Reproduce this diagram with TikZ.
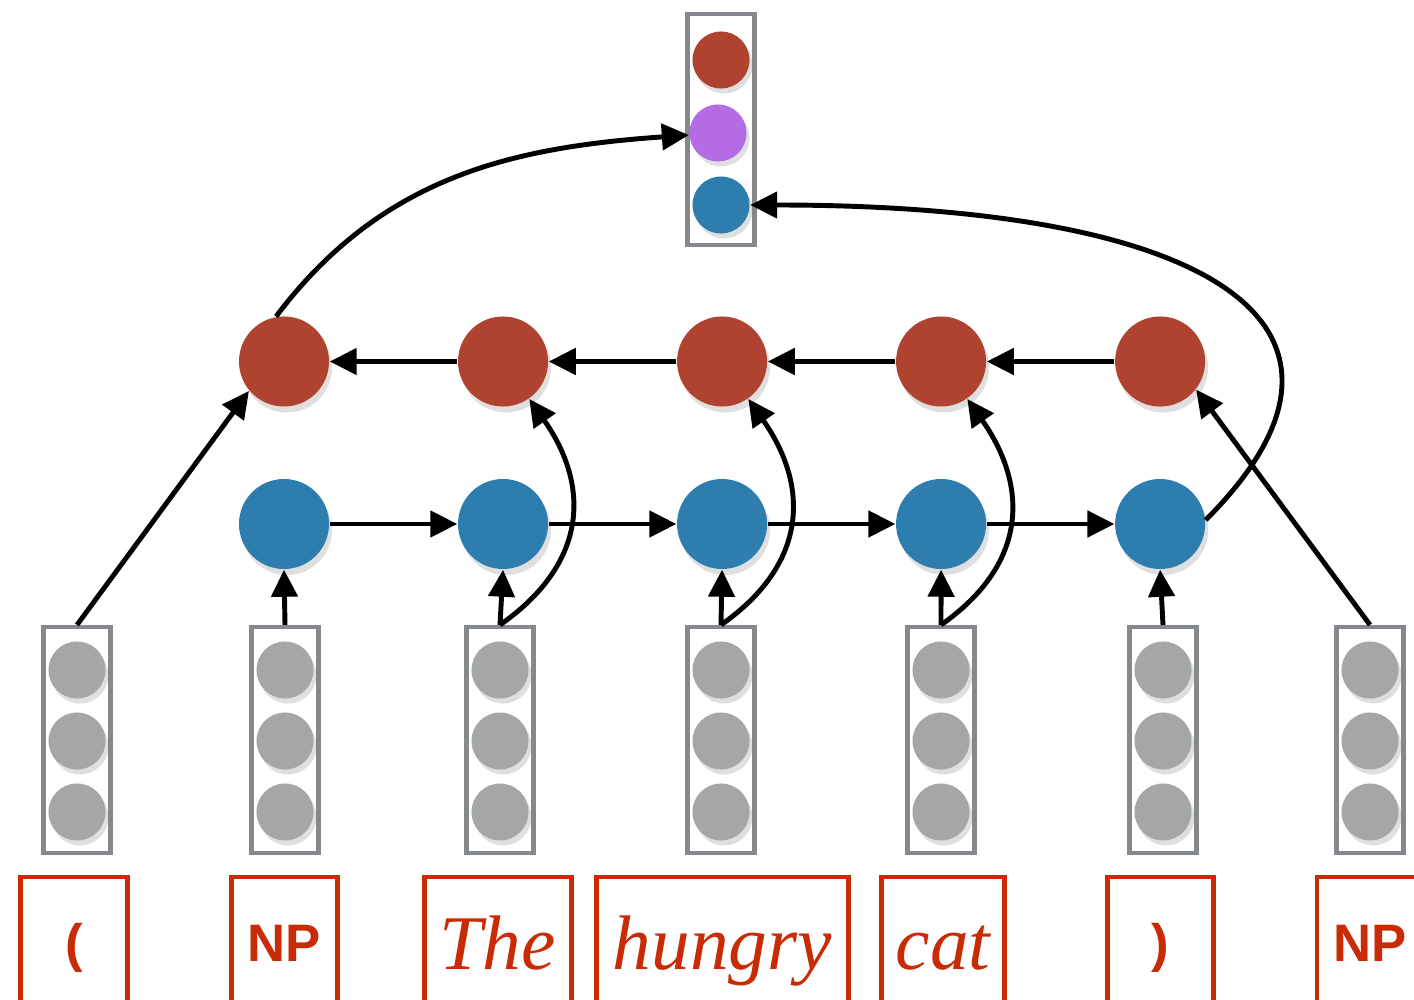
\documentclass[tikz,border=0pt]{standalone}
\usepackage{fontspec}
\newfontfamily\wordfont{Liberation Serif}
\newfontfamily\tagfont{Liberation Sans}
\usepackage{tikz}
\usetikzlibrary{arrows.meta, positioning, shadows}
\usepackage{xcolor}
\definecolor{hidred}{RGB}{176,67,47}
\definecolor{hidblue}{RGB}{46,125,175}
\definecolor{hidpurple}{RGB}{180,107,227}
\definecolor{unitgrey}{RGB}{165,167,166}
\definecolor{boxgrey}{RGB}{133,136,140}
\definecolor{wordred}{RGB}{201,43,5}

\begin{document}
\begin{tikzpicture}[
      x=0.01cm, y=0.01cm, >={Triangle[length=2.7mm, width=2.6mm]},
      vec/.style={rectangle, draw=boxgrey, line width=1.3pt, minimum width=0.665cm, minimum height=2.255cm, inner sep=0pt},
      unit/.style={circle, inner sep=0pt, minimum size=0.57cm, fill=unitgrey, drop shadow={shadow xshift=0.3mm, shadow yshift=-0.5mm, opacity=0.25}},
      hid/.style={circle, inner sep=0pt, minimum size=0.9cm, drop shadow={shadow xshift=0.3mm, shadow yshift=-0.6mm, opacity=0.25}},
      word/.style={rectangle, draw=wordred, line width=1.4pt, anchor=north, minimum height=1.47cm, inner sep=0pt, text=wordred, font=\wordfont\itshape\fontsize{22}{26}\selectfont, text height=0.54cm, text depth=0.16cm},
      tag/.style={word, font=\tagfont\bfseries\fontsize{15}{18}\selectfont, text height=0.40cm, text depth=0.18cm},
      line/.style={draw, line width=1.4pt, ->}
    ]
    \useasboundingbox (0,0) rectangle (1414,999);
    \clip (0,0) rectangle (1414,999);

    % Words
    \node[tag, minimum width=1.07cm] (w1) at (74,124.5) {(};
    \node[tag, minimum width=1.06cm] (w2) at (284.5,124.5) {NP};
    \node[word, minimum width=1.47cm] (w3) at (498,124.5) {The};
    \node[word, minimum width=2.52cm] (w4) at (722.5,124.5) {hungry};
    \node[word, minimum width=1.23cm] (w5) at (943,124.5) {cat};
    \node[tag, minimum width=1.06cm] (w6) at (1160.5,124.5) {)};
    \node[tag, minimum width=1.06cm] (w7) at (1370,124.5) {NP};

    % Embeddings
    \foreach \x [count=\i] in {77,285,500,721,941,1163,1370} {
      \node[vec] (emb\i) at (\x,259) {};
      \foreach \y [count=\j] in {329,258,187}
        \node[unit] (emb\i-\j) at (\x,\y) {};
    }

    % Hidden states
    \node[hid, fill=hidblue] (fw1) at (284,475) {};
    \node[hid, fill=hidblue, right=1.275cm of fw1] (fw2) {};
    \node[hid, fill=hidblue, right=1.275cm of fw2] (fw3) {};
    \node[hid, fill=hidblue, right=1.275cm of fw3] (fw4) {};
    \node[hid, fill=hidblue, right=1.275cm of fw4] (fw5) {};
    \node[hid, fill=hidred, above=0.71cm of fw1] (bw1) {};
    \node[hid, fill=hidred, above=0.71cm of fw2] (bw2) {};
    \node[hid, fill=hidred, above=0.71cm of fw3] (bw3) {};
    \node[hid, fill=hidred, above=0.71cm of fw4] (bw4) {};
    \node[hid, fill=hidred, above=0.71cm of fw5] (bw5) {};

    % Output
    \node[vec, minimum height=2.305cm] (out) at (721,869.5) {};
    \node[unit, fill=hidred] (outr) at (721,939) {};
    \node[unit, fill=hidpurple] (outp) at (718,866) {};
    \node[unit, fill=hidblue] (outb) at (721,794) {};

    % Connections
    \draw[line] (emb2.north) -- (fw1.south);
    \draw[line] (emb3.north) -- (fw2.south);
    \draw[line] (emb4.north) -- (fw3.south);
    \draw[line] (emb5.north) -- (fw4.south);
    \draw[line] (emb6.north) -- (fw5.south);
    \draw[line] (fw1) -- (fw2);
    \draw[line] (fw2) -- (fw3);
    \draw[line] (fw3) -- (fw4);
    \draw[line] (fw4) -- (fw5);
    \draw[line] (bw5) -- (bw4);
    \draw[line] (bw4) -- (bw3);
    \draw[line] (bw3) -- (bw2);
    \draw[line] (bw2) -- (bw1);
    \draw[line] (emb3.north) to[out=35, in=-55, looseness=1.2] (bw2);
    \draw[line] (emb4.north) to[out=35, in=-55, looseness=1.2] (bw3);
    \draw[line] (emb5.north) to[out=35, in=-55, looseness=1.2] (bw4);
    \draw[line] (emb1.north) -- (bw1.220);
    \draw[line] (emb7.north) -- (bw5.-38);
    \draw[line] (bw1.100) to[out=53, in=184] (outp);
    \draw[line] (fw5.5) to[out=45, in=0, out distance=2.7cm, in distance=4.7cm] (outb);
  \end{tikzpicture}
\end{document}
